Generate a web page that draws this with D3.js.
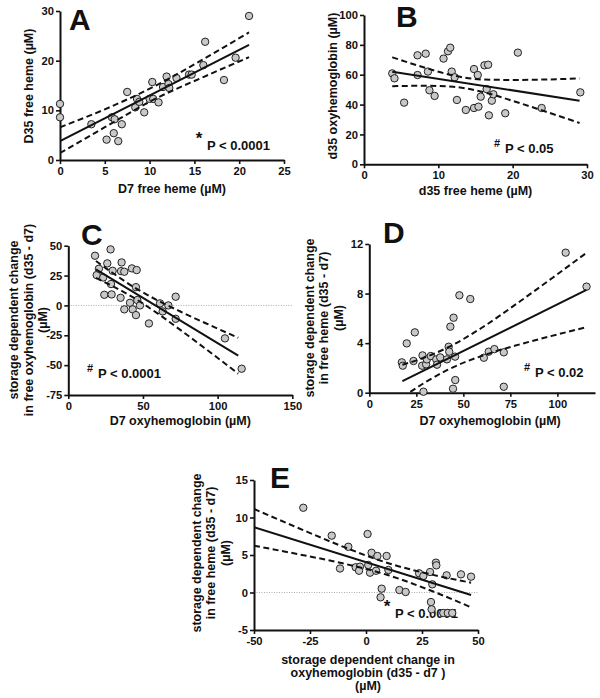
<!DOCTYPE html>
<html><head><meta charset="utf-8">
<script src="https://cdn.jsdelivr.net/npm/d3@7"></script>
<style>
body{margin:0;background:#fff}
text{font-family:"Liberation Sans",Arial,sans-serif;font-weight:bold;fill:#111}
</style>
</head><body><svg id="c" width="600" height="698"></svg>
<script>
// ---------- Panel A ----------
const aX = [0,0,3.5,5.2,6.0,5.8,6.1,6.5,6.9,7.5,8.4,8.6,8.85,9.4,10.0,10.3,10.4,11.0,11.5,11.9,12.1,12.2,13.0,14.4,14.7,16.0,16.2,18.3,19.6,21.1];
const aY = [11.3,8.6,7.2,4.1,5.4,8.6,8.2,3.8,7.2,13.7,10.6,12.3,11.7,9.6,12.3,15.7,12.3,11.6,14.7,16.8,15.3,14.5,16.5,17.2,17.2,19.1,23.8,16.1,20.6,29.0];
const aFitX = [0,21.1], aFitY = [3.8,23.2];
const aBandX = [0,5,10.5,16,21.1];
const aUpper = [6.6,10.2,14.8,20.3,25.7];
const aLower = [1.4,6.6,12.2,16.7,20.7];
const aXTicks = [0,5,10,15,20,25], aYTicks = [0,10,20,30];

// ---------- Panel B ----------
const bX = [3.8,4.1,5.4,7.2,7.2,8.3,8.6,8.8,9.5,10.7,11.3,11.6,11.8,12.2,12.5,13.7,14.8,14.8,15.4,15.3,15.7,16.2,16.7,16.5,16.8,17.2,17.4,19.0,20.7,23.9,29.1];
const bY = [60.9,57.6,41.3,73.0,59.8,74.1,62.1,49.6,45.8,70.8,75.7,78.1,62.1,58.3,43.1,36.4,63.8,37.7,38.6,59.8,45.3,66.3,66.7,50.4,32.8,42.6,46.9,34.2,74.8,37.7,48.2];
const bFitX = [3.8,29], bFitY = [62,42.6];
const bBandX = [3.8,8,12,16,20,24.5,29];
const bUpper = [71.7,65.0,59.5,56.8,56.5,56.8,57.5];
const bLower = [52.3,52.6,51.9,48.4,42.5,35.2,27.7];
const bXTicks = [0,10,20,30], bYTicks = [0,20,40,60,80,100];

// ---------- Panel C ----------
const cX = [17.9,19.0,20.5,23.4,24.1,26.1,28.3,28.6,29.0,29.7,35.0,35.7,35.3,37.5,37.5,41.3,42.6,43.1,45.3,45.3,45.8,46.2,48.0,54.0,61.4,63.2,67.0,71.9,71.9,104.9,116.1];
const cY = [41.6,25.4,30.7,23.4,8.9,35.2,46.9,17.9,9.2,29.0,6.4,36.0,28.7,28.2,-3.3,2.2,31.0,-3.3,15.3,-8.1,29.6,4.5,0,-15.1,1.7,-5.0,0,7.3,-11.2,-27.6,-53.0];
const cFitX = [18.5,113.8], cFitY = [30.1,-42.1];
const cBandX = [18.5,30,45,60,75,95,113.8];
const cUpper = [37.2,26.9,14.5,4.1,-5.1,-16.6,-27.1];
const cLower = [23.0,15.9,5.5,-6.9,-20.5,-39.2,-57.1];
const cXTicks = [0,50,100,150], cYTicks = [-75,-50,-25,0,25,50];

// ---------- Panel D ----------
const dX = [17.3,17.8,19.9,23.5,24.2,28.1,28.3,28.8,30.2,30.6,32.7,35.6,36.0,37.7,41.3,42.2,42.5,43.1,44.8,44.5,45.7,45.6,47.9,53.7,60.9,63.5,66.5,71.5,71.5,104.4,115.5];
const dY = [2.45,2.18,3.98,2.56,4.87,2.18,3.01,0.08,2.29,2.69,2.96,2.69,2.26,2.85,2.69,3.71,3.31,5.33,6.05,0.32,1.02,2.91,7.86,7.56,2.82,3.31,3.52,3.26,0.48,11.30,8.56];
const dFitX = [17.6,115.5], dFitY = [0.94,8.29];
const dBandX = [17.6,30,42,60,80,100,115.5];
const dUpper = [2.25,2.88,3.67,5.26,7.36,9.56,11.29];
const dLower = [-0.37,0.86,1.87,2.98,3.90,4.70,5.29];
const dXTicks = [0,25,50,75,100], dYTicks = [0,4,8,12];

// ---------- Panel E ----------
const eX = [-28.0,-15.3,-7.9,-11.6,-4.6,-2.7,-3.1,0.7,1.0,1.8,2.5,4.5,5.1,9.2,10.0,7.0,6.5,14.9,17.7,23.7,25.6,28.6,29.6,29.0,29.3,31.2,31.4,36.0,34.5,36.5,38.5,42.4,46.9];
const eY = [11.3,7.58,6.1,3.2,3.36,3.44,2.9,7.8,3.67,2.64,5.3,2.9,4.87,4.87,3.0,0.51,-0.64,0.33,0.07,2.56,2.2,2.73,1.09,-1.27,-2.24,3.98,3.62,2.29,-2.73,-2.73,-2.73,2.42,2.11];
const eFitX = [-50,46.9], eFitY = [8.69,-0.33];
const eBandX = [-50,-30,-10,10,30,46.9];
const eUpper = [11.14,8.57,6.08,3.90,2.35,1.31];
const eLower = [6.24,5.09,3.86,2.30,0.13,-1.97];
const eXTicks = [-50,-25,0,25,50], eYTicks = [-5,0,5,10,15];

const svg = d3.select("#c");
let clipId = 0;

function panel(cfg){
  const x = d3.scaleLinear().domain(cfg.xDomain).range([cfg.left, cfg.right]);
  const y = d3.scaleLinear().domain(cfg.yDomain).range([cfg.bottom, cfg.top]);
  const g = svg.append("g");
  const id = "clip" + (clipId++);
  g.append("clipPath").attr("id", id).append("rect")
    .attr("x", cfg.left).attr("y", cfg.top - 6)
    .attr("width", cfg.right - cfg.left + 6).attr("height", cfg.bottom - cfg.top + 6);

  if (cfg.zeroLine) {
    g.append("line").attr("x1", x(cfg.xDomain[0])).attr("x2", x(cfg.xDomain[1]))
      .attr("y1", y(0)).attr("y2", y(0))
      .attr("stroke", "#aaa").attr("stroke-width", 1).attr("stroke-dasharray", "1,1.5");
  }

  const fmt = d => String(d);
  const xa = g.append("g").attr("transform", `translate(0,${cfg.bottom})`)
    .call(d3.axisBottom(x).tickValues(cfg.xTicks).tickSize(4).tickSizeOuter(0).tickPadding(3).tickFormat(fmt));
  const ya = g.append("g").attr("transform", `translate(${cfg.left},0)`)
    .call(d3.axisLeft(y).tickValues(cfg.yTicks).tickSize(4).tickSizeOuter(0).tickPadding(2).tickFormat(fmt));
  [xa, ya].forEach(a => {
    a.select(".domain").attr("stroke", "#111").attr("stroke-width", 2);
    a.selectAll(".tick line").attr("stroke", "#111").attr("stroke-width", 1.6);
    a.selectAll(".tick text").attr("font-size", 11.2).attr("font-weight", "bold")
      .attr("font-family", '"Liberation Sans",Arial,sans-serif').attr("fill", "#111");
  });

  // axis titles
  const xs = cfg.xTitleStep || 14;
  cfg.xTitle.forEach((t, i) => {
    g.append("text").attr("x", (cfg.left + cfg.right) / 2 + (cfg.xTitleDx || 0))
      .attr("y", cfg.xTitleY + i * xs).attr("text-anchor", "middle")
      .attr("font-size", 12.5).text(t);
  });
  const n = cfg.yTitle.length;
  cfg.yTitle.forEach((t, i) => {
    const cx = cfg.yTitleX + (i - (n - 1)) * 14.4;
    const cy = cfg.yTitleY;
    g.append("text").attr("transform", `translate(${cx},${cy}) rotate(-90)`)
      .attr("text-anchor", "middle").attr("dy", "0.36em")
      .attr("font-size", 12.5).text(t);
  });

  // panel letter
  g.append("text").attr("x", cfg.letterX).attr("y", cfg.letterY)
    .attr("font-size", 30).attr("font-weight", 900).text(cfg.letter);

  // p-value
  g.append("text").attr("x", cfg.pX - 8).attr("y", cfg.pY - 6)
    .attr("font-size", cfg.sym === "*" ? 17 : 11).attr("text-anchor", "middle")
    .text(cfg.sym);
  g.append("text").attr("x", cfg.pX).attr("y", cfg.pY)
    .attr("font-size", 13).text(cfg.pText);

  // points
  const pts = cfg.xs.map((v, i) => [v, cfg.ys[i]]);
  g.append("g").selectAll("circle").data(pts).join("circle")
    .attr("cx", d => x(d[0])).attr("cy", d => y(d[1])).attr("r", 3.7)
    .attr("fill", "#c8c8c8").attr("stroke", "#222").attr("stroke-width", 1);

  // bands & fit
  const lg = g.append("g").attr("clip-path", `url(#${id})`);
  const line = d3.line().x(d => x(d[0])).y(d => y(d[1])).curve(d3.curveMonotoneX);
  [cfg.upper, cfg.lower].forEach(arr => {
    lg.append("path").attr("d", line(cfg.bandX.map((v, i) => [v, arr[i]])))
      .attr("fill", "none").attr("stroke", "#111").attr("stroke-width", 2)
      .attr("stroke-dasharray", "6,3.5");
  });
  lg.append("path").attr("d", line(cfg.fitX.map((v, i) => [v, cfg.fitY[i]])))
    .attr("fill", "none").attr("stroke", "#111").attr("stroke-width", 2);
}

panel({xs: aX, ys: aY, fitX: aFitX, fitY: aFitY, bandX: aBandX, upper: aUpper, lower: aLower,
  xDomain: [0,25], yDomain: [0,30], xTicks: aXTicks, yTicks: aYTicks,
  left: 60, right: 284, top: 11, bottom: 160,
  xTitle: ["D7 free heme (µM)"], xTitleY: 193, yTitle: ["D35 free heme (µM)"], yTitleX: 28, yTitleY: 86,
  letter: "A", letterX: 69, letterY: 30, sym: "*", pText: "P < 0.0001", pX: 207, pY: 150});

panel({xs: bX, ys: bY, fitX: bFitX, fitY: bFitY, bandX: bBandX, upper: bUpper, lower: bLower,
  xDomain: [0,30], yDomain: [0,100], xTicks: bXTicks, yTicks: bYTicks,
  left: 364, right: 587, top: 15, bottom: 164.3,
  xTitle: ["d35 free heme (µM)"], xTitleY: 195, yTitle: ["d35 oxyhemoglobin  (µM)"], yTitleX: 332, yTitleY: 86,
  letter: "B", letterX: 396, letterY: 27, sym: "#", pText: "P < 0.05", pX: 505, pY: 152.7});

panel({xs: cX, ys: cY, fitX: cFitX, fitY: cFitY, bandX: cBandX, upper: cUpper, lower: cLower,
  xDomain: [0,150], yDomain: [-75,50], xTicks: cXTicks, yTicks: cYTicks,
  left: 68.3, right: 292.3, top: 245.7, bottom: 395, zeroLine: true,
  xTitle: ["D7 oxyhemoglobin (µM)"], xTitleY: 425,
  yTitle: ["storage dependent change", "in free oxyhemoglobin (d35 - d7)", "(µM)"], yTitleX: 42.7, yTitleY: 320,
  letter: "C", letterX: 81, letterY: 245, sym: "#", pText: "P < 0.0001", pX: 98, pY: 378});

panel({xs: dX, ys: dY, fitX: dFitX, fitY: dFitY, bandX: dBandX, upper: dUpper, lower: dLower,
  xDomain: [0,120], yDomain: [0,12], xTicks: dXTicks, yTicks: dYTicks,
  left: 369.3, right: 595, top: 244, bottom: 392.7,
  xTitle: ["D7 oxyhemoglobin (µM)"], xTitleY: 425, xTitleDx: 8,
  yTitle: ["storage dependent change", "in free heme (d35 - d7)", "(µM)"], yTitleX: 338, yTitleY: 318,
  letter: "D", letterX: 383, letterY: 243, sym: "#", pText: "P < 0.02", pX: 535, pY: 377});

panel({xs: eX, ys: eY, fitX: eFitX, fitY: eFitY, bandX: eBandX, upper: eUpper, lower: eLower,
  xDomain: [-50,50], yDomain: [-5,15], xTicks: eXTicks, yTicks: eYTicks,
  left: 254, right: 478, top: 480, bottom: 630, zeroLine: true,
  xTitle: ["storage dependent change in", "oxyhemoglobin (d35 - d7 )", "(µM)"], xTitleY: 663.5, xTitleDx: 2, xTitleStep: 13.3,
  yTitle: ["storage dependent change", "in free heme (d35 - d7)", "(µM)"], yTitleX: 225, yTitleY: 553,
  letter: "E", letterX: 270, letterY: 488, sym: "*", pText: "P < 0.0001", pX: 395, pY: 618});
</script>
</body></html>
